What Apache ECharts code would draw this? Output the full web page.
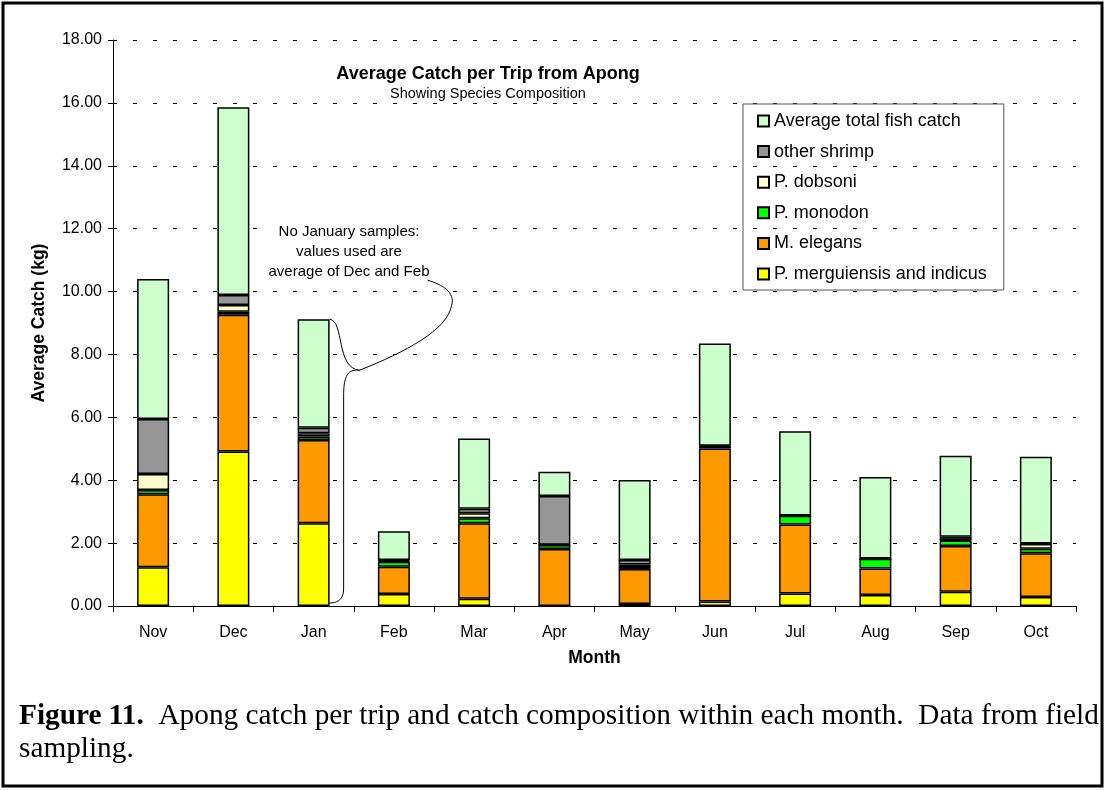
<!DOCTYPE html>
<html>
<head>
<meta charset="utf-8">
<script src="https://cdn.jsdelivr.net/npm/echarts@6/dist/echarts.min.js"></script>
<style>
    html, body { margin: 0; padding: 0; background: #fff; }
    #chart { width: 1105px; height: 790px; }
</style>
</head>
<body>
<div id="chart"></div>
<script>
// months, Nov to Oct
var months = ['Nov', 'Dec', 'Jan', 'Feb', 'Mar', 'Apr', 'May', 'Jun', 'Jul', 'Aug', 'Sep', 'Oct'];

// catch per trip (kg), stacked from the bottom up
var merguiensis = [1.23, 4.91, 2.63, 0.38, 0.23, 0.00, 0.06, 0.14, 0.40, 0.35, 0.45, 0.29];
var elegans     = [2.32, 4.35, 2.65, 0.87, 2.40, 1.81, 1.12, 4.87, 2.19, 0.84, 1.46, 1.39];
var monodon     = [0.14, 0.10, 0.11, 0.16, 0.16, 0.13, 0.09, 0.05, 0.28, 0.31, 0.17, 0.14];
var dobsoni     = [0.51, 0.21, 0.10, 0.03, 0.16, 0.01, 0.05, 0.01, 0.00, 0.00, 0.02, 0.15];
var otherShrimp = [1.75, 0.32, 0.18, 0.02, 0.14, 1.55, 0.14, 0.03, 0.01, 0.01, 0.10, 0.02];
var fishCatch   = [4.45, 5.97, 3.45, 0.92, 2.24, 0.77, 2.55, 3.25, 2.68, 2.59, 2.58, 2.76];

var yTicks = [0, 2, 4, 6, 8, 10, 12, 14, 16, 18];

var chart = echarts.init(document.getElementById('chart'));

function barSeries(name, data, color) {
    return {
        name: name,
        type: 'bar',
        stack: 'catch',
        data: data,
        barWidth: 32,
        itemStyle: { color: color, borderColor: '#000', borderWidth: 1.5 },
        emphasis: { disabled: true }
    };
}

var sans = 'Liberation Sans, Arial, sans-serif';
var serif = 'Liberation Serif, Times New Roman, serif';

var option = {
    animation: false,
    textStyle: { fontFamily: sans },
    title: {
        text: 'Average Catch per Trip from Apong',
        subtext: 'Showing Species Composition',
        left: 483,
        top: 60,
        textAlign: 'center',
        itemGap: 3,
        textStyle: { fontSize: 18, fontWeight: 'bold', color: '#000' },
        subtextStyle: { fontSize: 14.5, color: '#000' }
    },
    legend: {
        orient: 'vertical',
        left: 743,
        top: 104,
        padding: [8, 17, 7, 14],
        itemWidth: 11,
        itemHeight: 11,
        itemGap: 12.6,
        borderColor: '#555',
        borderWidth: 1,
        icon: 'rect',
        selectedMode: false,
        textStyle: { fontSize: 18, color: '#000', lineHeight: 16 },
        data: ['Average total fish catch', 'other shrimp', 'P. dobsoni', 'P. monodon', 'M. elegans', 'P. merguiensis and indicus']
    },
    grid: { left: 113, right: 29, top: 40, bottom: 184 },
    xAxis: {
        type: 'category',
        data: months,
        name: 'Month',
        nameLocation: 'middle',
        nameGap: 43,
        nameTextStyle: { fontSize: 17.5, fontWeight: 'bold', color: '#000' },
        axisLine: { lineStyle: { color: '#000', width: 1 } },
        axisTick: { show: true, length: 6, lineStyle: { color: '#000' } },
        axisLabel: { fontSize: 16, color: '#000', margin: 19 }
    },
    yAxis: {
        type: 'value',
        min: yTicks[0],
        max: yTicks[yTicks.length - 1],
        interval: 2,
        name: 'Average Catch (kg)',
        nameLocation: 'middle',
        nameGap: 65,
        nameRotate: 90,
        nameTextStyle: { fontSize: 17.5, fontWeight: 'bold', color: '#000' },
        axisLine: { show: true, lineStyle: { color: '#000', width: 1 } },
        axisTick: { show: true, length: 5, lineStyle: { color: '#000' } },
        axisLabel: {
            fontSize: 16, color: '#000', margin: 11,
            formatter: function (v) { return v.toFixed(2); }
        },
        splitLine: { show: true, lineStyle: { color: '#000', width: 1, type: [4, 16] } }
    },
    series: [
        barSeries('P. merguiensis and indicus', merguiensis, '#FFFF00'),
        barSeries('M. elegans', elegans, '#FF9900'),
        barSeries('P. monodon', monodon, '#00FF00'),
        barSeries('P. dobsoni', dobsoni, '#FFFFCC'),
        barSeries('other shrimp', otherShrimp, '#969696'),
        barSeries('Average total fish catch', fishCatch, '#CCFFCC')
    ]
};

chart.setOption(option);

// brace next to the January bar and its note
var janTotal = 0;
[merguiensis, elegans, monodon, dobsoni, otherShrimp, fishCatch].forEach(function (s) { janTotal += s[2]; });
var topPt = chart.convertToPixel({ seriesIndex: 0 }, ['Jan', janTotal]);
var botPt = chart.convertToPixel({ seriesIndex: 0 }, ['Jan', 0]);
var bx = topPt[0] + 16;
var ty = topPt[1], by = botPt[1] - 3;
var tipX = bx + 30, tipY = ty + 51;
var lineStyle = { stroke: '#000', lineWidth: 1, fill: null };

function curve(s) {
    return { type: 'bezierCurve', z: 20, shape: s, style: lineStyle };
}

function noteLine(text, y) {
    return {
        type: 'text', z: 20,
        style: { text: text, x: 349, y: y, align: 'center', textAlign: 'center', verticalAlign: 'middle', textVerticalAlign: 'middle', fontSize: 15, fontFamily: sans, fill: '#000' }
    };
}

chart.setOption({
    graphic: [
        { type: 'rect', z: 20, shape: { x: 3, y: 3, width: 1099, height: 783 }, style: { stroke: '#000', lineWidth: 3, fill: null }, silent: true },
        { type: 'rect', z: 19, shape: { x: 266, y: 221, width: 172, height: 62 }, style: { fill: '#fff', stroke: null }, silent: true },
        curve({ x1: bx, y1: ty, cpx1: bx + 15, cpy1: ty + 2, cpx2: bx + 6, cpy2: tipY - 2, x2: tipX, y2: tipY }),
        curve({ x1: tipX, y1: tipY, cpx1: bx + 16, cpy1: tipY - 2, cpx2: bx + 14, cpy2: tipY + 10, x2: bx + 14, y2: tipY + 26 }),
        { type: 'line', z: 20, shape: { x1: bx + 14, y1: tipY + 26, x2: bx + 14, y2: by - 14 }, style: lineStyle },
        curve({ x1: bx + 14, y1: by - 14, cpx1: bx + 14, cpy1: by - 2, cpx2: bx + 6, cpy2: by, x2: bx, y2: by }),
        curve({ x1: tipX, y1: tipY, cpx1: tipX + 45, cpy1: tipY - 18, cpx2: tipX + 88, cpy2: tipY - 40, x2: tipX + 92, y2: tipY - 65 }),
        curve({ x1: tipX + 92, y1: tipY - 65, cpx1: tipX + 96, cpy1: tipY - 78, cpx2: tipX + 82, cpy2: tipY - 86, x2: tipX + 68, y2: tipY - 90 }),
        noteLine('No January samples:', 232),
        noteLine('values used are', 252),
        noteLine('average of Dec and Feb', 272),
        {
            type: 'text', left: 19, top: 700, z: 20,
            style: {
                text: '{b|Figure 11.}  Apong catch per trip and catch composition within each month.  Data from field\nsampling.',
                fontSize: 29.3, lineHeight: 33,
                fontFamily: serif, fill: '#000',
                rich: { b: { fontWeight: 'bold', fontSize: 29.3, lineHeight: 33, fontFamily: serif } }
            }
        }
    ]
});
</script>
</body>
</html>
